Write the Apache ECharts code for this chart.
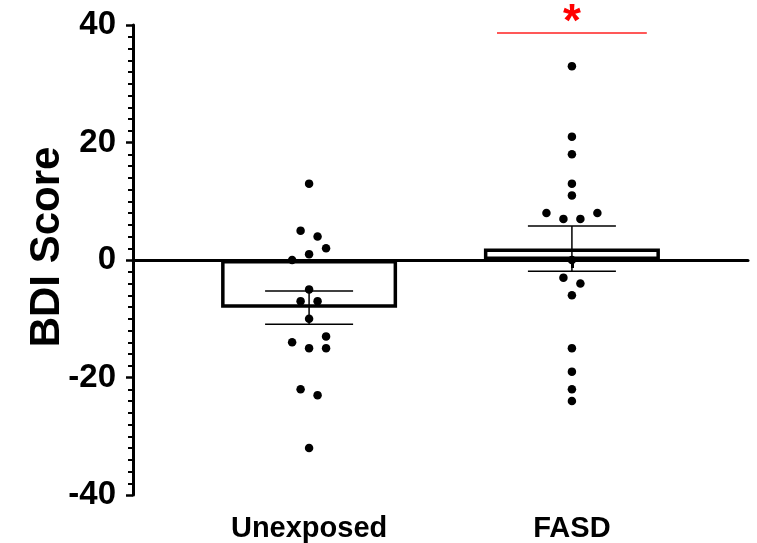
<!DOCTYPE html>
<html>
<head>
<meta charset="utf-8">
<script src="https://cdn.jsdelivr.net/npm/echarts@6/dist/echarts.min.js"></script>
<style>
  html, body { margin: 0; padding: 0; background: #fff; }
  #chart { width: 757px; height: 543px; }
</style>
</head>
<body>
<div id="chart"></div>
<script>
// groups
var categories = ['Unexposed', 'FASD'];

// individual BDI scores
var unexposedScores = [13, 5, 4, 2, 1, 0, -5, -7, -7, -10, -13, -14, -15, -15, -22, -23, -32];
var fasdScores = [33, 21, 18, 13, 11, 8, 7, 7, 8, 0, -3, -4, -6, -15, -19, -22, -24];

// dot column (side-by-side spread of equal values), in dot widths
var unexposedCols = [0, -1, 1, 2, 0, -2, 0, -1, 1, 0, 2, -2, 0, 2, -1, 1, 0];
var fasdCols = [0, 0, 0, 0, 0, -3, -1, 1, 3, 0, -1, 1, 0, 0, 0, 0, 0];

var yTicks = [-40, -20, 0, 20, 40];
var sigLevel = 38.6;   // height of the significance bar
var sigLabel = '*';

function mean(a) {
  var s = 0;
  for (var i = 0; i < a.length; i++) s += a[i];
  return s / a.length;
}
function sem(a) {
  var m = mean(a), s = 0;
  for (var i = 0; i < a.length; i++) s += (a[i] - m) * (a[i] - m);
  return Math.sqrt(s / (a.length - 1)) / Math.sqrt(a.length);
}

var groups = [unexposedScores, fasdScores];
var cols = [unexposedCols, fasdCols];
var colStep = 0.0323;   // one dot width in x-axis units

var barData = [], errData = [], dotData = [];
groups.forEach(function (g, gi) {
  var x = gi + 1, m = mean(g), e = sem(g);
  barData.push([x, m]);
  errData.push([x, m - e, m + e]);
  g.forEach(function (v, i) {
    dotData.push([x + cols[gi][i] * colStep, v]);
  });
});

var myChart = echarts.init(document.getElementById('chart'));

var option = {
  animation: false,
  grid: { left: 133, right: 9, top: 25, bottom: 46 },
  xAxis: {
    type: 'value',
    min: 0.33,
    max: 2.67,
    splitLine: { show: false },
    axisLine: { lineStyle: { color: '#000', width: 3 } },
    axisTick: {
      customValues: [1, 2],
      length: 8,
      lineStyle: { color: '#000', width: 3 }
    },
    axisLabel: {
      customValues: [1, 2],
      formatter: function (v) { return categories[Math.round(v) - 1]; },
      color: '#000',
      fontFamily: 'Liberation Sans, Arial',
      fontWeight: 'bold',
      fontSize: 29,
      margin: 19
    }
  },
  yAxis: {
    type: 'value',
    min: -40,
    max: 40,
    interval: 20,
    name: 'BDI Score',
    nameLocation: 'middle',
    nameGap: 65,
    nameMoveOverlap: false,
    nameTextStyle: {
      color: '#000',
      fontFamily: 'Liberation Sans, Arial',
      fontWeight: 'bold',
      fontSize: 42,
      padding: [0, 0, 0, 26]
    },
    splitLine: { show: false },
    axisLine: { show: true, onZero: false, lineStyle: { color: '#000', width: 3 } },
    axisTick: { length: 7, lineStyle: { color: '#000', width: 2.5 } },
    minorTick: { show: true, splitNumber: 10, length: 5, lineStyle: { color: '#000', width: 2 } },
    axisLabel: {
      customValues: yTicks,
      color: '#000',
      fontFamily: 'Liberation Sans, Arial',
      fontWeight: 'bold',
      fontSize: 33,
      margin: 17
    }
  },
  series: [
    {
      type: 'bar',
      data: barData,
      barWidth: 176,
      itemStyle: { color: '#fff', borderColor: '#000', borderWidth: 3.5 },
      markLine: {
        silent: true,
        symbol: 'none',
        label: { show: false },
        lineStyle: { color: '#000', width: 3, type: 'solid' },
        data: [{ yAxis: 0 }]
      },
      z: 2
    },
    {
      type: 'custom',
      data: errData,
      renderItem: function (params, api) {
        var x = api.value(0);
        var lo = api.coord([x, api.value(1)]);
        var hi = api.coord([x, api.value(2)]);
        var half = 44;
        var st = { stroke: '#000', lineWidth: 1.5 };
        return {
          type: 'group',
          children: [
            { type: 'line', shape: { x1: lo[0], y1: lo[1], x2: hi[0], y2: hi[1] }, style: st },
            { type: 'line', shape: { x1: lo[0] - half, y1: lo[1], x2: lo[0] + half, y2: lo[1] }, style: st },
            { type: 'line', shape: { x1: hi[0] - half, y1: hi[1], x2: hi[0] + half, y2: hi[1] }, style: st }
          ]
        };
      },
      z: 3
    },
    {
      type: 'scatter',
      data: dotData,
      symbolSize: 8.5,
      itemStyle: { color: '#000', opacity: 1 },
      z: 4,
      markLine: {
        silent: true,
        symbol: 'none',
        lineStyle: { color: '#ff2020', width: 1.5, type: 'solid' },
        label: { show: false },
        data: [[{ coord: [1.715, sigLevel] }, { coord: [2.285, sigLevel] }]]
      }
    }
  ]
};
myChart.setOption(option);

// significance star above the bar
var starPos = myChart.convertToPixel({ gridIndex: 0 }, [2, sigLevel]);
myChart.setOption({
  graphic: [{
    type: 'text',
    x: starPos[0],
    y: starPos[1] - 10,
    style: {
      text: sigLabel,
      fill: '#ff0000',
      font: 'bold 46px "Liberation Sans", Arial',
      align: 'center',
      verticalAlign: 'middle'
    }
  }]
});
</script>
</body>
</html>
